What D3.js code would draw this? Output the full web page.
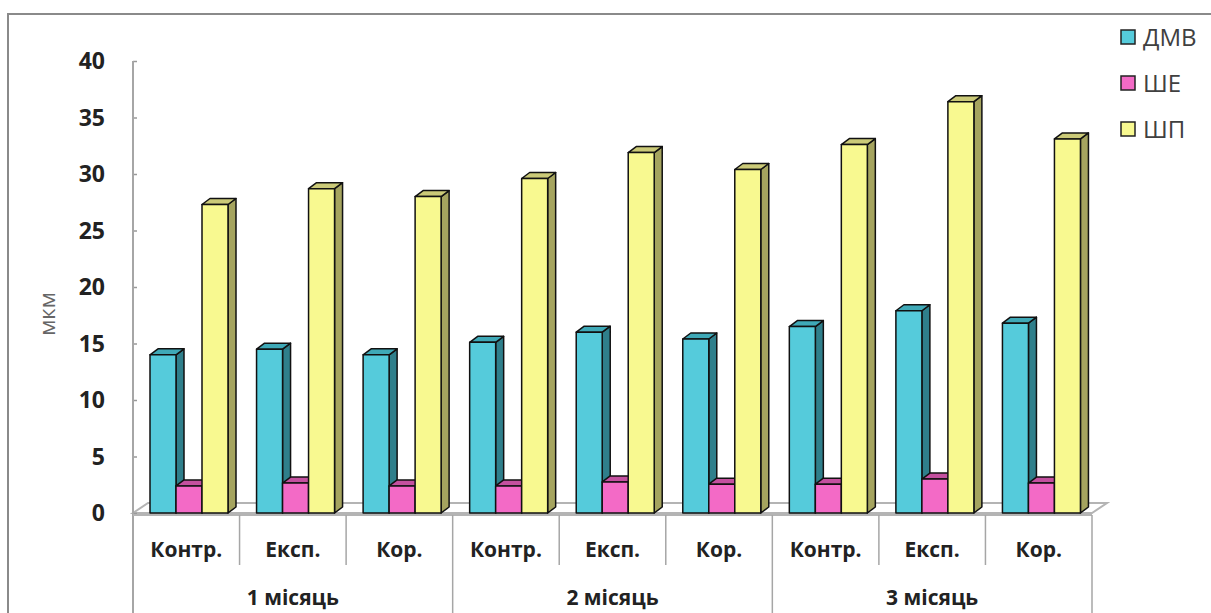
<!DOCTYPE html>
<html>
<head>
<meta charset="utf-8">
<script src="https://cdn.jsdelivr.net/npm/d3@7"></script>
<style>
  html, body { margin: 0; padding: 0; background: #fff; }
  svg { display: block; }
</style>
</head>
<body>
<svg id="chart" width="1211" height="613"></svg>
<script>
// Sub-groups and periods along the category axis
const subgroups = ["Контр.", "Експ.", "Кор."];
const periods = ["1 місяць", "2 місяць", "3 місяць"];
const seriesNames = ["ДМВ", "ШЕ", "ШП"];
const yTicks = [0, 5, 10, 15, 20, 25, 30, 35, 40];

// Values, µm, one entry per period/sub-group
const dmv = [14.0, 14.5, 14.0, 15.1, 16.0, 15.4, 16.5, 17.9, 16.8];
const she = [2.4, 2.65, 2.4, 2.4, 2.75, 2.55, 2.55, 3.0, 2.65];
const shp = [27.3, 28.7, 28.0, 29.6, 31.9, 30.4, 32.6, 36.4, 33.1];

const seriesValues = [dmv, she, shp];
const palette = [
  { front: "#55cbdb", side: "#2f7f8b", top: "#3fa9b7" },
  { front: "#f36ac6", side: "#a8448c", top: "#c4509f" },
  { front: "#f8f990", side: "#a5a45f", top: "#cbca78" }
];

const FONT = "'Open Sans', sans-serif";
const svg = d3.select("#chart");
const W = 1211, H = 613;
const axisX = 133, baseY = 513, topY = 61, rightX = 1092;
const depthX = 8, depthY = 6;

// Outer frame
svg.append("rect")
  .attr("x", 8).attr("y", 14)
  .attr("width", W + 20).attr("height", H + 20)
  .attr("fill", "#fff").attr("stroke", "#8a8a8a").attr("stroke-width", 2);

const cats = d3.range(periods.length * subgroups.length);
const x = d3.scaleBand().domain(cats).range([axisX, rightX]).padding(0);
const xs = d3.scaleBand().domain(seriesNames).range([17, 95]).padding(0);
const y = d3.scaleLinear().domain([0, 40]).range([baseY, topY]);

// Floor
const floorDx = 15, floorDy = 10;
svg.append("polygon")
  .attr("points", [
    [axisX, baseY], [axisX + floorDx, baseY - floorDy],
    [rightX + floorDx, baseY - floorDy], [rightX, baseY]
  ].map(p => p.join(",")).join(" "))
  .attr("fill", "#fff").attr("stroke", "#b4b4b4").attr("stroke-width", 2);

// Value axis
const yAxis = d3.axisRight(y).tickValues(yTicks).tickSize(4).tickFormat("");
const yg = svg.append("g").attr("transform", `translate(${axisX},0)`).call(yAxis);
yg.select(".domain").remove();
yg.selectAll(".tick line").attr("stroke", "#999").attr("stroke-width", 1.5);
svg.append("line")
  .attr("x1", axisX).attr("x2", axisX).attr("y1", topY).attr("y2", H)
  .attr("stroke", "#a6a6a6").attr("stroke-width", 2);

svg.append("g").selectAll("text").data(yTicks).join("text")
  .attr("x", 105).attr("y", d => y(d)).attr("dy", "0.36em")
  .attr("text-anchor", "end")
  .attr("font-family", FONT).attr("font-weight", 700)
  .attr("font-size", 23).attr("fill", "#222")
  .text(d => d);

svg.append("text")
  .attr("transform", `translate(48,314) rotate(-90)`)
  .attr("text-anchor", "middle").attr("dy", "0.3em")
  .attr("font-family", FONT).attr("font-size", 22)
  .attr("fill", "#666")
  .text("мкм");

// Category axis line and dividers
const catAxisY = 515;
svg.append("line")
  .attr("x1", axisX).attr("x2", rightX).attr("y1", catAxisY).attr("y2", catAxisY)
  .attr("stroke", "#b4b4b4").attr("stroke-width", 2);
const dividers = d3.range(1, cats.length + 1);
svg.append("g").selectAll("line").data(dividers).join("line")
  .attr("x1", d => axisX + d * x.bandwidth()).attr("x2", d => axisX + d * x.bandwidth())
  .attr("y1", catAxisY)
  .attr("y2", d => d % subgroups.length === 0 ? H : 565)
  .attr("stroke", "#a6a6a6").attr("stroke-width", 1.5);

svg.append("g").selectAll("text").data(cats).join("text")
  .attr("x", d => x(d) + x.bandwidth() / 2).attr("y", 557)
  .attr("text-anchor", "middle")
  .attr("font-family", FONT).attr("font-weight", 700)
  .attr("font-size", 21).attr("fill", "#222")
  .text(d => subgroups[d % subgroups.length]);

svg.append("g").selectAll("text").data(periods).join("text")
  .attr("x", (d, i) => x(i * 3) + x.bandwidth() * 1.5).attr("y", 605)
  .attr("text-anchor", "middle")
  .attr("font-family", FONT).attr("font-weight", 700)
  .attr("font-size", 21).attr("fill", "#222")
  .text(d => d);

// 3D columns, drawn left to right so each covers its neighbour's side
const bars = [];
cats.forEach(c => {
  seriesNames.forEach((s, si) => {
    bars.push({ c, s, si, v: seriesValues[si][c] });
  });
});

const barG = svg.append("g")
  .attr("stroke", "#111").attr("stroke-width", 1.5).attr("stroke-linejoin", "round");
bars.forEach(b => {
  const x0 = x(b.c) + xs(b.s);
  const x1 = x0 + xs.bandwidth();
  const yt = y(b.v);
  const col = palette[b.si];
  const g = barG.append("g");
  g.append("polygon")
    .attr("points", [[x1, yt], [x1 + depthX, yt - depthY], [x1 + depthX, baseY - depthY], [x1, baseY]].join(" "))
    .attr("fill", col.side);
  g.append("polygon")
    .attr("points", [[x0, yt], [x0 + depthX, yt - depthY], [x1 + depthX, yt - depthY], [x1, yt]].join(" "))
    .attr("fill", col.top);
  g.append("rect")
    .attr("x", x0).attr("y", yt).attr("width", x1 - x0).attr("height", baseY - yt)
    .attr("fill", col.front);
});

// Legend
const legend = svg.append("g").selectAll("g").data(seriesNames).join("g")
  .attr("transform", (d, i) => `translate(1121,${37 + i * 46})`);
legend.append("rect")
  .attr("x", 0).attr("y", -7).attr("width", 14).attr("height", 14)
  .attr("fill", (d, i) => palette[i].front)
  .attr("stroke", "#222").attr("stroke-width", 1.5);
legend.append("text")
  .attr("x", 22).attr("y", 0).attr("dy", "0.36em")
  .attr("font-family", FONT).attr("font-size", 24)
  .attr("fill", "#404040")
  .text(d => d);
</script>
</body>
</html>
